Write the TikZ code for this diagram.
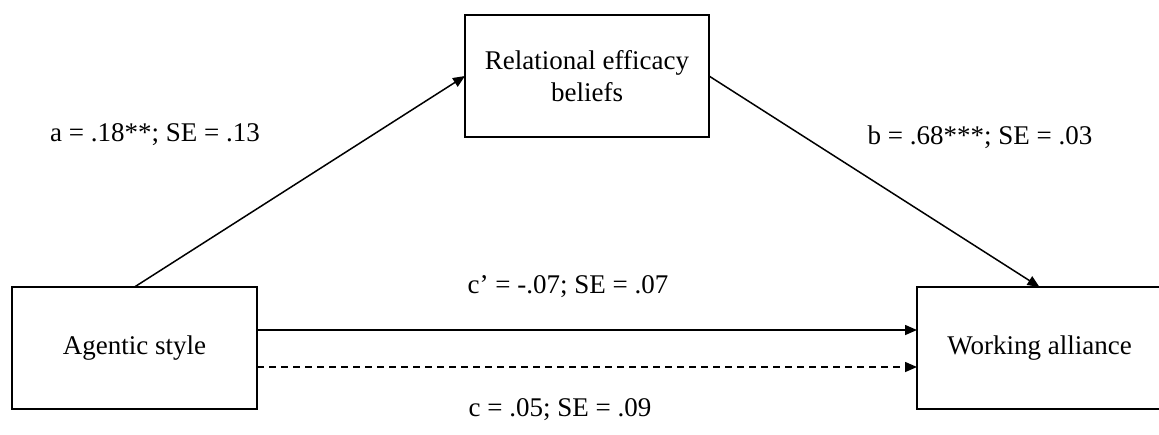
\documentclass[tikz,border=0pt]{standalone}
\usepackage{fontspec}
\setmainfont{Liberation Serif}
\usetikzlibrary{arrows.meta,positioning}
\tikzset{>={Triangle[length=6pt,width=5pt]},every node/.style={font=\fontsize{13.5}{16}\selectfont},
 varbox/.style={draw,line width=0.9pt,minimum width=122.5pt,minimum height=61pt,inner sep=0pt,
 outer sep=0pt,align=center},path/.style={line width=0.75pt,->},
 dashpath/.style={path,dash pattern=on 3.5pt off 2.5pt}}
\begin{document}
\begin{tikzpicture}[x=0.5pt,y=-0.5pt]
\useasboundingbox (0,0) rectangle (1159,434);
\clip (0,0) rectangle (1159,434);
\node[varbox] (agentic) at (134.5,348) {Agentic style};
\node[varbox,minimum width=122pt] (efficacy) at (587,76) {Relational efficacy\\beliefs};
\node[varbox] (alliance) at (1039.5,348) {Working alliance};
\draw[path] (agentic.north) -- (efficacy.west);
\draw[path] (efficacy.east) -- (alliance.north);
\draw[path] ([yshift=9pt]agentic.east) -- ([yshift=9pt]alliance.west);
\draw[dashpath] ([yshift=-9.5pt]agentic.east) -- ([yshift=-9.5pt]alliance.west);
\node (alab) at (155,135) {a = .18**; SE = .13};
\node (blab) at (980,137) {b = .68***; SE = .03};
\node (cplab) at (568,287) {c’ = -.07; SE = .07};
\node (clab) at (560,410) {c = .05; SE = .09};
\end{tikzpicture}
\end{document}
